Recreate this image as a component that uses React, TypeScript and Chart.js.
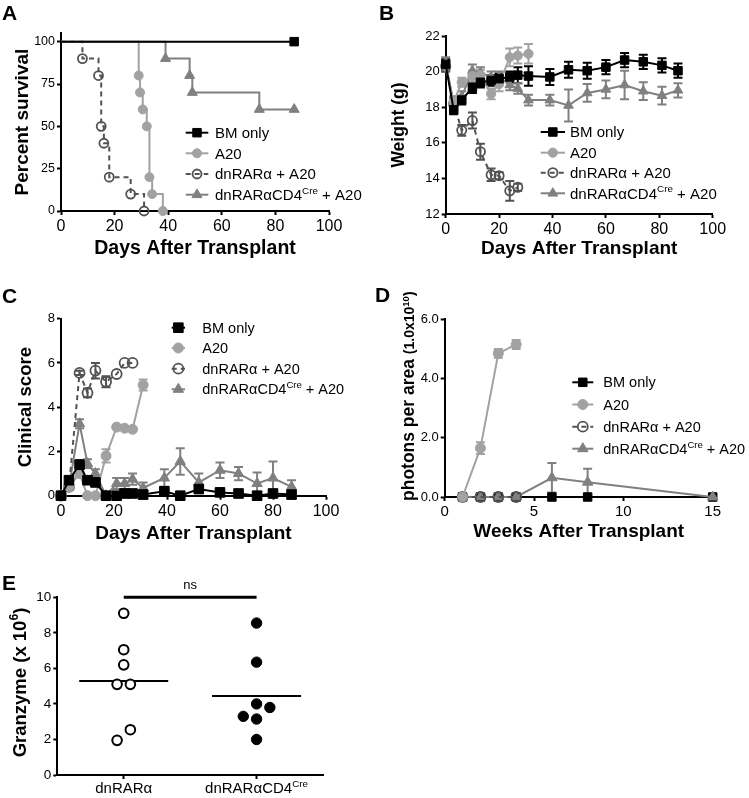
import React, { useEffect, useRef } from 'react';
import { Chart, registerables } from 'chart.js';
Chart.register(...registerables);

const FONT = '"Liberation Sans", Arial, Helvetica, sans-serif';

// ---------------- shared series names ----------------
const seriesNames = ['BM only', 'A20', 'dnRARα + A20', 'dnRARαCD4^{Cre} + A20'];

// ---------------- Panel A : survival ----------------
const survBMDays = [0, 87];
const survBM = [100, 100];
const survA20Days = [0, 29, 29.5, 30.5, 32, 33, 34, 38];
const survA20 = [100, 80, 70, 60, 50, 20, 10, 0];
const survDnDays = [0, 8, 14, 15, 16, 18, 26, 31];
const survDn = [100, 90, 80, 50, 40, 20, 10, 0];
const survCd4Days = [0, 39, 48, 49, 74, 87];
const survCd4 = [100, 90, 80, 70, 60, 60];

// ---------------- Panel B : weight ----------------
const wDays = [0, 3, 6, 10, 13, 17, 20, 24, 27, 31, 39, 46, 53, 60, 67, 74, 81, 87];
const wBM = [20.4, 17.85, 18.4, 19.1, 19.4, 19.5, 19.6, 19.7, 19.8, 19.75, 19.7, 20.1, 20.05, 20.25, 20.65, 20.55, 20.35, 20.05];
const wBMErr = [0.3, 0.25, 0.25, 0.3, 0.3, 0.3, 0.3, 0.3, 0.45, 0.55, 0.45, 0.45, 0.45, 0.4, 0.4, 0.4, 0.4, 0.4];
const wA20Days = [0, 3, 6, 10, 13, 17, 20, 24, 27, 31];
const wA20 = [20.3, 18.3, 19.4, 19.75, 19.8, 18.75, 19.3, 20.8, 20.9, 21.0];
const wA20Err = [0.3, 0.3, 0.25, 0.3, 0.3, 0.3, 0.4, 0.5, 0.45, 0.55];
const wDnDays = [0, 3, 6, 10, 13, 17, 20, 24, 27];
const wDn = [20.3, 18.2, 16.7, 17.25, 15.5, 14.2, 14.15, 13.3, 13.5];
const wDnErr = [0.3, 0.3, 0.3, 0.45, 0.45, 0.35, 0.2, 0.55, 0.2];
const wCd4 = [20.5, 18.2, 18.6, 20.05, 19.95, 19.7, 19.7, 19.25, 19.05, 18.4, 18.4, 18.1, 18.8, 19.0, 19.25, 18.9, 18.65, 18.95];
const wCd4Err = [0.3, 0.4, 0.3, 0.35, 0.3, 0.3, 0.3, 0.3, 0.3, 0.3, 0.3, 0.9, 0.5, 0.5, 0.8, 0.5, 0.5, 0.4];

// ---------------- Panel C : clinical score ----------------
const cDays = [0, 3, 7, 10, 13, 17, 21, 24, 27, 31, 39, 45, 52, 60, 67, 74, 80, 87];
const cBM = [0, 0.7, 1.4, 0.7, 0.6, 0, 0, 0.1, 0.1, 0.05, 0.2, 0, 0.3, 0.15, 0.1, 0, 0.1, 0.05];
const cBMErr = [0, 0.15, 0.2, 0.15, 0.15, 0, 0, 0.1, 0.1, 0.05, 0.15, 0, 0.15, 0.1, 0.1, 0, 0.1, 0.05];
const cA20Days = [0, 3, 7, 10, 13, 17, 21, 24, 27, 31];
const cA20 = [0, 0.4, 1.0, 0, 0, 1.8, 3.1, 3.05, 3.0, 5.0];
const cA20Err = [0, 0.1, 0.15, 0, 0, 0.3, 0, 0, 0, 0.25];
const cDnDays = [0, 3, 7, 10, 13, 17, 21, 24, 27];
const cDn = [0, 0.4, 5.55, 4.65, 5.65, 5.15, 5.5, 6.0, 6.0];
const cDnErr = [0, 0.1, 0.1, 0.2, 0.35, 0.25, 0, 0, 0];
const cCd4 = [0, 0.4, 3.25, 1.45, 1.0, 0, 0.55, 0.55, 0.75, 0.35, 0.8, 1.55, 0.6, 1.15, 1.0, 0.55, 0.8, 0.4];
const cCd4Err = [0, 0.1, 0.2, 0.2, 0.2, 0, 0.25, 0.25, 0.25, 0.25, 0.4, 0.6, 0.4, 0.35, 0.3, 0.5, 0.75, 0.3];

// ---------------- Panel D : photons ----------------
const dWeeks = [1, 2, 3, 4, 6, 8, 15];
const dBM = [0, 0, 0, 0, 0, 0, 0];
const dA20Weeks = [1, 2, 3, 4];
const dA20 = [0, 1.65, 4.85, 5.15];
const dA20Err = [0, 0.2, 0.15, 0.15];
const dDnWeeks = [1, 2, 3, 4];
const dDn = [0, 0, 0, 0];
const dCd4 = [0, 0, 0, 0, 0.65, 0.5, 0];
const dCd4Err = [0, 0, 0, 0, 0.5, 0.45, 0];

// ---------------- Panel E : granzyme ----------------
const gzGroups = ['dnRARα', 'dnRARαCD4^{Cre}'];
const gzPos = [1, 3];
const gzDn = [9.1, 7.05, 6.2, 5.1, 5.1, 2.55, 1.95];
const gzDnJitter = [0, 0, 0, -0.1, 0.1, 0.1, -0.1];
const gzCd4 = [8.55, 6.35, 4.0, 3.8, 3.3, 3.15, 2.0];
const gzCd4Jitter = [0, 0, 0, 0.2, -0.2, 0, 0];
const sigLevel = 10;
const sigLabel = 'ns';

// ---------------- colours ----------------
const C_BM = '#000000';
const C_A20 = '#a2a2a2';
const C_DN = '#525252';
const C_CD4 = '#808080';

// ---------------- helpers ----------------
type Seg = { t: string; size: number; rise?: number };

function rich(s: string, size: number): Seg[] {
  const out: Seg[] = [];
  const re = /\^\{([^}]*)\}/g;
  let last = 0;
  let m: RegExpExecArray | null;
  while ((m = re.exec(s))) {
    if (m.index > last) out.push({ t: s.slice(last, m.index), size });
    out.push({ t: m[1], size: size * 0.66, rise: size * 0.42 });
    last = re.lastIndex;
  }
  if (last < s.length) out.push({ t: s.slice(last), size });
  return out;
}

function drawSegs(ctx: CanvasRenderingContext2D, segs: Seg[], x: number, y: number, align: string, bold: boolean) {
  const f = (sz: number) => `${bold ? 'bold ' : ''}${sz}px ${FONT}`;
  let total = 0;
  let main = 0;
  const ws = segs.map((s) => {
    ctx.font = f(s.size);
    const w = ctx.measureText(s.t).width;
    total += w;
    if (!s.rise) main = Math.max(main, s.size);
    return w;
  });
  let cx = align === 'center' ? x - total / 2 : x;
  const base = y + main * 0.358;
  ctx.textAlign = 'left';
  ctx.textBaseline = 'alphabetic';
  segs.forEach((s, i) => {
    ctx.font = f(s.size);
    ctx.fillText(s.t, cx, base - (s.rise || 0));
    cx += ws[i];
  });
}

function drawMarker(ctx: CanvasRenderingContext2D, style: string, x: number, y: number, r: number, fill: string, stroke: string, bw: number) {
  ctx.beginPath();
  if (style === 'rect') {
    const s = r * Math.SQRT1_2;
    ctx.rect(x - s, y - s, 2 * s, 2 * s);
  } else if (style === 'triangle') {
    let a = 0;
    ctx.moveTo(x + Math.sin(a) * r, y - Math.cos(a) * r);
    a += (2 * Math.PI) / 3;
    ctx.lineTo(x + Math.sin(a) * r, y - Math.cos(a) * r);
    a += (2 * Math.PI) / 3;
    ctx.lineTo(x + Math.sin(a) * r, y - Math.cos(a) * r);
    ctx.closePath();
  } else {
    ctx.arc(x, y, r, 0, Math.PI * 2);
  }
  ctx.fillStyle = fill;
  ctx.fill();
  ctx.lineWidth = bw;
  ctx.strokeStyle = stroke;
  ctx.stroke();
}

const errorBarPlugin = {
  id: 'errbars',
  beforeDatasetsDraw(chart: any) {
    const ctx = chart.ctx;
    chart.data.datasets.forEach((d: any, di: number) => {
      if (!d.errors) return;
      const meta = chart.getDatasetMeta(di);
      const ys = chart.scales[meta.yAxisID];
      ctx.save();
      ctx.strokeStyle = d.borderColor;
      ctx.lineWidth = 2;
      ctx.setLineDash([]);
      meta.data.forEach((pt: any, i: number) => {
        const e = d.errors[i];
        if (!e) return;
        const v = d.data[i].y;
        const y1 = ys.getPixelForValue(v + e);
        const y2 = ys.getPixelForValue(v - e);
        const x = pt.x;
        ctx.beginPath();
        ctx.moveTo(x, y1);
        ctx.lineTo(x, y2);
        ctx.moveTo(x - 4.5, y1);
        ctx.lineTo(x + 4.5, y1);
        ctx.moveTo(x - 4.5, y2);
        ctx.lineTo(x + 4.5, y2);
        ctx.stroke();
      });
      ctx.restore();
    });
  },
};

function makeLegend(o: { x0: number; x1: number; tx: number; rows: number[]; size: number }) {
  return {
    id: 'rlegend',
    afterDraw(chart: any) {
      const ctx = chart.ctx;
      o.rows.forEach((y, k) => {
        const d = chart.data.datasets[k];
        ctx.save();
        ctx.strokeStyle = d.borderColor;
        ctx.lineWidth = d.borderWidth;
        ctx.setLineDash(d.borderDash || []);
        ctx.beginPath();
        ctx.moveTo(o.x0, y);
        ctx.lineTo(o.x1, y);
        ctx.stroke();
        ctx.setLineDash([]);
        drawMarker(ctx, d.pointStyle, (o.x0 + o.x1) / 2, y, d.markerRadius, d.pointBackgroundColor, d.pointBorderColor, d.pointBorderWidth);
        ctx.fillStyle = '#000';
        drawSegs(ctx, rich(d.label, o.size), o.tx, y, 'left', false);
        ctx.restore();
      });
    },
  };
}

function makeRotTitle(segs: Seg[], cx: number, y0: number, align: string) {
  return {
    id: 'rottitle',
    afterDraw(chart: any) {
      const ctx = chart.ctx;
      ctx.save();
      ctx.translate(cx, y0);
      ctx.rotate(-Math.PI / 2);
      ctx.fillStyle = '#000';
      drawSegs(ctx, segs, 0, 0, align, true);
      ctx.restore();
    },
  };
}

type Rect = { x: number; y: number; w: number; h: number };
type Plot = { l: number; t: number; r: number; b: number };

function fitFn(kind: 'x' | 'y', v: number) {
  return (s: any) => {
    if (kind === 'y') s.width = v;
    else s.height = v;
    s.paddingTop = 0;
    s.paddingBottom = 0;
    s.paddingLeft = 0;
    s.paddingRight = 0;
  };
}

function axis(kind: 'x' | 'y', min: number, max: number, step: number, tickSize: number, fitV: number, title?: { text: string; size: number; pad: number }, cb?: any) {
  return {
    type: 'linear',
    min,
    max,
    border: { display: true, color: '#000', width: 2 },
    grid: { display: true, drawOnChartArea: false, drawTicks: true, tickLength: 4, tickWidth: 2, tickColor: '#000', color: '#000' },
    ticks: {
      stepSize: step,
      color: '#000',
      font: { size: tickSize, family: FONT },
      padding: 2,
      maxRotation: 0,
      autoSkip: false,
      includeBounds: false,
      ...(cb ? { callback: cb } : {}),
    },
    afterFit: fitFn(kind, fitV),
    title: title
      ? {
          display: true,
          text: title.text,
          color: '#000',
          font: { size: title.size, weight: 'bold', family: FONT },
          padding: kind === 'y' ? { top: title.pad, bottom: 0 } : { top: 0, bottom: title.pad },
        }
      : { display: false },
  };
}

function geom(rect: Rect, plot: Plot) {
  return {
    padding: { left: 0, top: plot.t - rect.y, right: rect.x + rect.w - plot.r, bottom: 0 },
    yW: plot.l - rect.x,
    xH: rect.y + rect.h - plot.b,
  };
}

type Sty = { color: string; style: string; fill: string; dash?: number[]; bw: number };
const S_BM: Sty = { color: C_BM, style: 'rect', fill: C_BM, bw: 1 };
const S_A20: Sty = { color: C_A20, style: 'circle', fill: C_A20, bw: 1 };
const S_DN: Sty = { color: C_DN, style: 'circle', fill: 'rgba(255,255,255,0)', dash: [5, 4], bw: 1.8 };
const S_CD4: Sty = { color: C_CD4, style: 'triangle', fill: C_CD4, bw: 1 };

function series(label: string, xs: number[], ys: number[], sty: Sty, r: number, extra: any = {}) {
  return {
    label,
    data: xs.map((x, i) => ({ x, y: ys[i] })),
    borderColor: sty.color,
    borderWidth: 2,
    borderDash: sty.dash || [],
    pointStyle: sty.style,
    pointRadius: r,
    markerRadius: r,
    pointBackgroundColor: sty.fill,
    pointBorderColor: sty.color,
    pointBorderWidth: sty.bw,
    clip: false,
    tension: 0,
    ...extra,
  };
}

function lineConfig(rect: Rect, plot: Plot, datasets: any[], x: any, y: any, plugins: any[]) {
  return {
    type: 'line',
    data: { datasets },
    options: {
      responsive: false,
      animation: false,
      events: [],
      layout: { padding: geom(rect, plot).padding, autoPadding: false },
      plugins: { legend: { display: false }, tooltip: { enabled: false } },
      scales: { x, y },
    },
    plugins: [errorBarPlugin, ...plugins],
  };
}

// ---------------- geometry ----------------
const rectA: Rect = { x: 0, y: 0, w: 372, h: 266 };
const plotA: Plot = { l: 61, t: 33.2, r: 329, b: 211 };
const rectB: Rect = { x: 375, y: 0, w: 374, h: 266 };
const plotB: Plot = { l: 445.7, t: 36, r: 712.7, b: 214 };
const rectC: Rect = { x: 0, y: 266, w: 372, h: 280 };
const plotC: Plot = { l: 61, t: 318.7, r: 326, b: 495.7 };
const rectD: Rect = { x: 375, y: 266, w: 374, h: 280 };
const plotD: Plot = { l: 444.7, t: 319.3, r: 712.7, b: 497 };
const rectE: Rect = { x: 0, y: 546, w: 372, h: 252 };
const plotE: Plot = { l: 57.3, t: 597.3, r: 323, b: 775 };

const firstHidden = (xs: number[], r: number) => xs.map((_, i) => (i === 0 ? 0 : r));

function configA() {
  const g = geom(rectA, plotA);
  const ds = [
    series(seriesNames[0], survBMDays, survBM, S_BM, 6, { stepped: true, pointRadius: firstHidden(survBMDays, 6) }),
    series(seriesNames[1], survA20Days, survA20, S_A20, 4.5, { stepped: true, pointRadius: firstHidden(survA20Days, 4.5) }),
    series(seriesNames[2], survDnDays, survDn, S_DN, 4.5, { stepped: true, pointRadius: firstHidden(survDnDays, 4.5) }),
    series(seriesNames[3], survCd4Days, survCd4, S_CD4, 5.8, { stepped: true, pointRadius: firstHidden(survCd4Days, 5.8) }),
  ];
  return lineConfig(
    rectA,
    plotA,
    ds,
    axis('x', 0, 100, 20, 16, g.xH, { text: 'Days After Transplant', size: 19.5, pad: 6 }),
    axis('y', 0, 105, 25, 12.5, g.yW, { text: 'Percent survival', size: 19, pad: 11.1 }),
    [makeLegend({ x0: 185.7, x1: 208.3, tx: 215, rows: [132.7, 153.3, 174, 194.7], size: 15 })]
  );
}

function configB() {
  const g = geom(rectB, plotB);
  const ds = [
    series(seriesNames[0], wDays, wBM, S_BM, 6, { errors: wBMErr }),
    series(seriesNames[1], wA20Days, wA20, S_A20, 4.6, { errors: wA20Err }),
    series(seriesNames[2], wDnDays, wDn, S_DN, 4.6, { errors: wDnErr }),
    series(seriesNames[3], wDays, wCd4, S_CD4, 5.6, { errors: wCd4Err }),
  ];
  return lineConfig(
    rectB,
    plotB,
    ds,
    axis('x', 0, 100, 20, 16, g.xH, { text: 'Days After Transplant', size: 19, pad: 6.3 }),
    axis('y', 12, 22, 2, 13, g.yW, { text: 'Weight (g)', size: 17.5, pad: 13.7 }),
    [makeLegend({ x0: 165.7, x1: 190, tx: 195, rows: [132, 152.7, 172.7, 193.3], size: 15 })]
  );
}

function configC() {
  const g = geom(rectC, plotC);
  const ds = [
    series(seriesNames[0], cDays, cBM, S_BM, 6.8, { errors: cBMErr }),
    series(seriesNames[1], cA20Days, cA20, S_A20, 5, { errors: cA20Err }),
    series(seriesNames[2], cDnDays, cDn, S_DN, 5, { errors: cDnErr }),
    series(seriesNames[3], cDays, cCd4, S_CD4, 6, { errors: cCd4Err }),
  ];
  return lineConfig(
    rectC,
    plotC,
    ds,
    axis('x', 0, 100, 20, 16, g.xH, { text: 'Days After Transplant', size: 19, pad: 1.3 }),
    axis('y', 0, 8, 2, 13, g.yW, { text: 'Clinical score', size: 18.5, pad: 14.4 }),
    [makeLegend({ x0: 171.7, x1: 185, tx: 202.3, rows: [61.7, 82, 102.7, 123.3], size: 14.5 })]
  );
}

function configD() {
  const g = geom(rectD, plotD);
  const ds = [
    series(seriesNames[0], dWeeks, dBM, S_BM, 6, { order: 4 }),
    series(seriesNames[1], dA20Weeks, dA20, S_A20, 5, { errors: dA20Err, order: 1 }),
    series(seriesNames[2], dDnWeeks, dDn, S_DN, 5, { order: 2 }),
    series(seriesNames[3], dWeeks, dCd4, S_CD4, 6, { errors: dCd4Err, order: 3 }),
  ];
  const titleSegs: Seg[] = [
    { t: 'photons per area ', size: 17.5 },
    { t: '(1.0x10', size: 14 },
    { t: '10', size: 9.5, rise: 5.5 },
    { t: ')', size: 14 },
  ];
  return lineConfig(
    rectD,
    plotD,
    ds,
    axis('x', 0, 15, 5, 15, g.xH, { text: 'Weeks After Transplant', size: 19, pad: 2.9 }),
    axis('y', 0, 6, 2, 13, g.yW, undefined, (v: any) => Number(v).toFixed(1)),
    [
      makeLegend({ x0: 197.3, x1: 218.3, tx: 228.3, rows: [116.3, 138.5, 160.7, 182.7], size: 14.5 }),
      makeRotTitle(titleSegs, 408 - rectD.x, 501 - rectD.y, 'left'),
    ]
  );
}

function configE() {
  const g = geom(rectE, plotE);
  const mean = (a: number[]) => a.reduce((s, v) => s + v, 0) / a.length;
  const half = 0.67;
  const mDn = mean(gzDn);
  const mCd4 = mean(gzCd4);
  const labelsPlugin = {
    id: 'elabels',
    afterDraw(chart: any) {
      const ctx = chart.ctx;
      const xs = chart.scales.x;
      const ys = chart.scales.y;
      ctx.save();
      ctx.fillStyle = '#000';
      gzGroups.forEach((gname, i) => drawSegs(ctx, rich(gname, 15), xs.getPixelForValue(gzPos[i]), chart.chartArea.bottom + 13, 'center', false));
      drawSegs(ctx, rich(sigLabel, 13), xs.getPixelForValue((gzPos[0] + gzPos[1]) / 2), ys.getPixelForValue(sigLevel) - 13, 'center', false);
      ctx.restore();
    },
  };
  const xAxis: any = axis('x', 0, 4, 1, 15, g.xH);
  xAxis.ticks.display = false;
  xAxis.afterBuildTicks = (s: any) => {
    s.ticks = gzPos.map((v) => ({ value: v }));
  };
  return {
    type: 'scatter',
    data: {
      datasets: [
        {
          label: gzGroups[0],
          data: gzDn.map((v, i) => ({ x: gzPos[0] + gzDnJitter[i], y: v })),
          pointStyle: 'circle',
          pointRadius: 4.8,
          pointBackgroundColor: '#ffffff',
          pointBorderColor: '#000',
          pointBorderWidth: 2,
          showLine: false,
          clip: false,
        },
        {
          label: gzGroups[1],
          data: gzCd4.map((v, i) => ({ x: gzPos[1] + gzCd4Jitter[i], y: v })),
          pointStyle: 'circle',
          pointRadius: 5.2,
          pointBackgroundColor: '#000',
          pointBorderColor: '#000',
          pointBorderWidth: 1,
          showLine: false,
          clip: false,
        },
        {
          type: 'line',
          data: [
            { x: gzPos[0] - half, y: mDn },
            { x: gzPos[0] + half, y: mDn },
          ],
          borderColor: '#000',
          borderWidth: 2,
          pointRadius: 0,
          showLine: true,
        },
        {
          type: 'line',
          data: [
            { x: gzPos[1] - half, y: mCd4 },
            { x: gzPos[1] + half, y: mCd4 },
          ],
          borderColor: '#000',
          borderWidth: 2,
          pointRadius: 0,
          showLine: true,
        },
        {
          type: 'line',
          data: [
            { x: gzPos[0], y: sigLevel },
            { x: gzPos[1], y: sigLevel },
          ],
          borderColor: '#000',
          borderWidth: 3,
          pointRadius: 0,
          showLine: true,
          clip: false,
        },
      ],
    },
    options: {
      responsive: false,
      animation: false,
      events: [],
      layout: { padding: g.padding, autoPadding: false },
      plugins: { legend: { display: false }, tooltip: { enabled: false } },
      scales: {
        x: xAxis,
        y: axis('y', 0, 10, 2, 13.5, g.yW),
      },
    },
    plugins: [labelsPlugin, makeRotTitle(rich('Granzyme (x 10^{6})', 18.5), 19.2 - rectE.x, 682.5 - rectE.y, 'center')],
  };
}

function ChartPanel({ rect, make }: { rect: Rect; make: () => any }) {
  const ref = useRef<HTMLCanvasElement>(null);
  useEffect(() => {
    const chart = new Chart(ref.current as HTMLCanvasElement, make());
    return () => chart.destroy();
  }, []);
  return (
    <canvas
      ref={ref}
      width={rect.w}
      height={rect.h}
      style={{ position: 'absolute', left: rect.x, top: rect.y, width: rect.w, height: rect.h }}
    />
  );
}

const letterStyle = (left: number, top: number): React.CSSProperties => ({
  position: 'absolute',
  left,
  top,
  font: `bold 21px ${FONT}`,
  lineHeight: '21px',
  color: '#000',
});

export default function App() {
  return (
    <div style={{ position: 'absolute', left: 0, top: 0, width: 749, height: 798, background: '#fff', overflow: 'hidden' }}>
      <ChartPanel rect={rectA} make={configA} />
      <ChartPanel rect={rectB} make={configB} />
      <ChartPanel rect={rectC} make={configC} />
      <ChartPanel rect={rectD} make={configD} />
      <ChartPanel rect={rectE} make={configE} />
      <div style={letterStyle(2, 2)}>A</div>
      <div style={letterStyle(379, 2)}>B</div>
      <div style={letterStyle(2, 285)}>C</div>
      <div style={letterStyle(375, 284)}>D</div>
      <div style={letterStyle(2, 572)}>E</div>
    </div>
  );
}
